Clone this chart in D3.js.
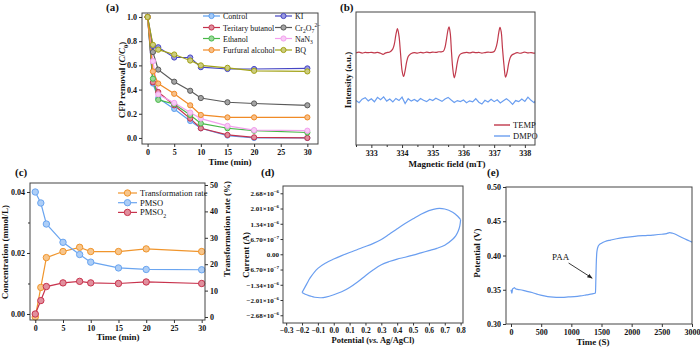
<!DOCTYPE html>
<html>
<head>
<meta charset="utf-8">
<script src="https://cdn.jsdelivr.net/npm/d3@7"></script>
<style>
  body { margin: 0; background: #fff; }
</style>
</head>
<body>
<script>
// ---------- data ----------
// (a) scavenger tests
const timeA = [0, 1, 2, 5, 8, 10, 15, 20, 30];
const namesA = ["Control", "KI", "Teritary butanol", "Cr_{2}O_{7}^{2−}", "Ethanol", "NaN_{3}", "Furfural alcohol", "BQ"];
const colorsA = ["#5b9ff0", "#4646c4", "#c4314c", "#5a5a5a", "#48b848", "#f3a0ee", "#f08a26", "#a2a216"];
const controlA = [1.0, 0.45, 0.33, 0.24, 0.14, 0.08, 0.02, 0.0, 0.0];
const kiA = [1.0, 0.76, 0.75, 0.665, 0.665, 0.585, 0.57, 0.57, 0.575];
const butanolA = [1.0, 0.46, 0.38, 0.27, 0.16, 0.08, 0.025, 0.005, 0.0];
const dichromateA = [1.0, 0.71, 0.565, 0.465, 0.39, 0.33, 0.295, 0.285, 0.27];
const ethanolA = [1.0, 0.49, 0.315, 0.28, 0.19, 0.12, 0.08, 0.06, 0.045];
const azideA = [1.0, 0.635, 0.36, 0.29, 0.21, 0.16, 0.10, 0.065, 0.06];
const furfuralA = [1.0, 0.55, 0.45, 0.365, 0.27, 0.19, 0.17, 0.17, 0.17];
const bqA = [1.0, 0.77, 0.73, 0.69, 0.64, 0.60, 0.58, 0.555, 0.55];
const seriesA = [controlA, kiA, butanolA, dichromateA, ethanolA, azideA, furfuralA, bqA];

// (b) EPR spectra [field mT, intensity a.u.]
const tempSpectrum = [
  [332.50,69.3],[332.60,69.8],[332.70,69.1],[332.80,69.6],[332.90,69.4],[333.00,69.7],[333.10,69.2],
  [333.20,69.6],[333.30,69.0],[333.38,68.2],[333.45,69.1],[333.53,69.6],[333.60,70.0],[333.70,72.3],
  [333.75,76],[333.80,83],[333.85,87.5],[333.90,82],[333.95,69],[334.00,56],[334.05,51.5],[334.10,56],
  [334.15,62.5],[334.20,66.5],[334.25,68],[334.30,68.8],[334.40,69.4],[334.50,69.1],[334.60,69.7],
  [334.70,69.3],[334.80,69.8],[334.90,69.5],[335.00,69.9],[335.10,69.6],[335.20,70.1],[335.28,70.0],
  [335.35,70.6],[335.40,73.5],[335.45,80],[335.50,87],[335.53,88.8],[335.57,84],[335.61,70],[335.65,58],
  [335.70,50.5],[335.75,55],[335.80,62],[335.85,66.5],[335.90,68.3],[336.00,69.3],[336.10,69.7],
  [336.20,69.2],[336.30,69.8],[336.40,69.4],[336.50,69.6],[336.60,69.1],[336.70,69.5],[336.80,69.9],
  [336.90,69.6],[337.00,70.3],[337.05,72.5],[337.10,77],[337.15,84.5],[337.19,88.5],[337.23,85],
  [337.27,73],[337.32,60],[337.37,51],[337.42,54.5],[337.47,61],[337.52,65.5],[337.57,67.5],[337.65,68.5],
  [337.75,69.4],[337.85,69.0],[337.95,69.6],[338.00,69.9],[338.10,69.2],[338.20,69.5],[338.30,69.1],
  [338.40,69.4],[338.50,69.2]
];
const dmpoSpectrum = [
  [332.5,33.5],[332.6,31.8],[332.7,34.5],[332.8,35.6],[332.9,33.2],[333.0,34.8],[333.1,32.5],[333.2,35.8],
  [333.3,34.0],[333.4,36.2],[333.5,33.0],[333.6,34.6],[333.7,32.4],[333.8,35.0],[333.9,33.4],[334.0,36.0],
  [334.1,31.2],[334.2,34.8],[334.3,33.0],[334.4,34.2],[334.5,32.8],[334.6,35.0],[334.7,33.6],[334.8,32.6],
  [334.9,34.4],[335.0,33.4],[335.1,35.2],[335.2,34.0],[335.3,32.8],[335.4,34.6],[335.5,35.8],[335.6,33.8],
  [335.7,32.0],[335.8,33.4],[335.9,32.6],[336.0,33.8],[336.1,31.8],[336.2,33.2],[336.3,32.4],[336.4,34.8],
  [336.5,32.2],[336.6,30.8],[336.7,33.6],[336.8,32.4],[336.9,34.4],[337.0,32.6],[337.1,34.0],[337.2,31.6],
  [337.3,33.2],[337.4,34.8],[337.5,33.0],[337.6,30.6],[337.7,33.4],[337.8,32.6],[337.9,34.6],[338.0,32.8],
  [338.1,36.0],[338.2,33.6],[338.3,31.8],[338.4,35.2]
];
const fieldTicks = [333, 334, 335, 336, 337, 338];

// (c) PMSO probe
const timeC = [0, 1, 2, 5, 8, 10, 15, 20, 30];
const transRate = [0, 11.2, 22.5, 24.8, 26.4, 24.8, 24.8, 25.8, 24.8];
const pmso = [0.040, 0.0364, 0.0295, 0.0235, 0.0195, 0.017, 0.0151, 0.0146, 0.0145];
const pmso2 = [0.0, 0.0044, 0.009, 0.0102, 0.0107, 0.0102, 0.0100, 0.0105, 0.0100];

// (d) cyclic voltammogram
const cvFwdPotential = [-0.20,-0.17,-0.15,-0.10,-0.05,0.00,0.05,0.10,0.15,0.20,0.25,0.30,0.35,0.40,0.45,0.50,0.55,0.60,0.65,0.70,0.75,0.78,0.80];
const cvFwdCurrent = [-1.68e-6,-1.30e-6,-1.05e-6,-0.62e-6,-0.38e-6,-0.21e-6,-0.06e-6,0.08e-6,0.21e-6,0.34e-6,0.48e-6,0.65e-6,0.88e-6,1.12e-6,1.35e-6,1.56e-6,1.76e-6,1.92e-6,2.01e-6,1.99e-6,1.85e-6,1.68e-6,1.52e-6];
const cvRevPotential = [0.80,0.795,0.785,0.77,0.75,0.70,0.65,0.60,0.55,0.50,0.45,0.40,0.35,0.30,0.25,0.20,0.15,0.10,0.05,0.00,-0.05,-0.08,-0.12,-0.15,-0.18,-0.20];
const cvRevCurrent = [1.52e-6,1.25e-6,1.02e-6,0.82e-6,0.66e-6,0.40e-6,0.26e-6,0.16e-6,0.06e-6,-0.04e-6,-0.13e-6,-0.21e-6,-0.32e-6,-0.46e-6,-0.68e-6,-0.94e-6,-1.22e-6,-1.46e-6,-1.65e-6,-1.78e-6,-1.88e-6,-1.91e-6,-1.89e-6,-1.83e-6,-1.76e-6,-1.68e-6];
const currentTicks = [-2.68e-6, -2.01e-6, -1.34e-6, -6.7e-7, 0, 6.7e-7, 1.34e-6, 2.01e-6, 2.68e-6];

// (e) open-circuit potential
const ocpTime = [0, 8, 15, 25, 40, 55, 70, 90, 150, 250, 350, 450, 550, 650, 750, 850, 950, 1050, 1150, 1250, 1350, 1390, 1400, 1405, 1412, 1420, 1430, 1445, 1465, 1500, 1560, 1650, 1750, 1900, 2050, 2200, 2350, 2500, 2580, 2630, 2680, 2750, 2850, 2950, 3000];
const ocpPotential = [0.350, 0.347, 0.345, 0.351, 0.352, 0.353, 0.352, 0.351, 0.350, 0.348, 0.346, 0.343, 0.341, 0.3395, 0.339, 0.339, 0.3395, 0.340, 0.341, 0.3425, 0.344, 0.345, 0.3455, 0.360, 0.385, 0.402, 0.409, 0.4135, 0.416, 0.418, 0.4205, 0.4225, 0.4245, 0.4265, 0.428, 0.429, 0.4298, 0.431, 0.432, 0.4335, 0.4325, 0.430, 0.4255, 0.4215, 0.4195];

// ---------- helpers ----------
const FONT = "'Liberation Serif', 'Times New Roman', serif";
const svg = d3.select("body").append("svg")
  .attr("width", 700).attr("height", 350)
  .attr("font-family", FONT);

function light(c) { return d3.interpolateRgb(c, "#fff")(0.45); }

// mini markup: _{sub} ^{sup} *italic*
function rich(text, s, size) {
  const tokens = s.match(/(_\{[^}]*\}|\^\{[^}]*\}|\*[^*]*\*|[^_^*]+)/g);
  let cur = 0;
  tokens.forEach(tok => {
    let shift = 0, fs = size, italic = false, str = tok;
    if (tok.startsWith("_{")) { shift = size * 0.3; fs = size * 0.7; str = tok.slice(2, -1); }
    else if (tok.startsWith("^{")) { shift = -size * 0.4; fs = size * 0.7; str = tok.slice(2, -1); }
    else if (tok.startsWith("*")) { italic = true; str = tok.slice(1, -1); }
    const sp = text.append("tspan").attr("dy", shift - cur).attr("font-size", fs).text(str);
    if (italic) sp.attr("font-style", "italic");
    cur = shift;
  });
  return text;
}

function label(x, y, s, opts = {}) {
  const t = svg.append("text")
    .attr("transform", `translate(${x},${y})` + (opts.rotate ? ` rotate(${opts.rotate})` : ""))
    .attr("text-anchor", opts.anchor || "middle")
    .attr("font-weight", opts.bold === false ? "normal" : "bold")
    .attr("font-size", opts.size || 9)
    .attr("fill", "#111");
  return rich(t, s, opts.size || 9);
}

function frame(b) {
  svg.append("rect").attr("x", b.l).attr("y", b.t)
    .attr("width", b.r - b.l).attr("height", b.b - b.t)
    .attr("fill", "none").attr("stroke", "#444").attr("stroke-width", 1);
}

function clip(id, b) {
  svg.append("clipPath").attr("id", id).append("rect")
    .attr("x", b.l).attr("y", b.t).attr("width", b.r - b.l).attr("height", b.b - b.t);
}

function axis(gen, tx, ty, size) {
  const g = svg.append("g").attr("transform", `translate(${tx},${ty})`).call(gen);
  g.attr("font-family", FONT).attr("font-size", size);
  g.select(".domain").remove();
  g.selectAll(".tick line").attr("stroke", "#333");
  g.selectAll(".tick text").attr("font-weight", "bold").attr("fill", "#111");
  return g;
}

function markers(g, xs, ys, x, y, color, r) {
  g.selectAll(null).data(xs).join("circle")
    .attr("cx", d => x(d)).attr("cy", (d, i) => y(ys[i])).attr("r", r)
    .attr("fill", light(color)).attr("stroke", color).attr("stroke-width", 1);
}

// ---------- (a) ----------
{
  const b = { l: 142, r: 318, t: 13, b: 144 };
  const x = d3.scaleLinear().domain([-1.05, 32]).range([b.l, b.r]);
  const y = d3.scaleLinear().domain([-0.05, 1.033]).range([b.b, b.t]);
  const g = svg.append("g");
  const line = d3.line().x((d, i) => x(timeA[i])).y(d => y(d));
  seriesA.forEach((s, k) => {
    g.append("path").datum(s).attr("d", line).attr("fill", "none")
      .attr("stroke", colorsA[k]).attr("stroke-width", 1.2);
  });
  seriesA.forEach((s, k) => markers(g, timeA, s, x, y, colorsA[k], 2.6));
  frame(b);
  axis(d3.axisBottom(x).tickValues([0, 5, 10, 15, 20, 25, 30]).tickSize(3).tickPadding(2), 0, b.b, 8);
  axis(d3.axisLeft(y).tickValues([0, 0.2, 0.4, 0.6, 0.8, 1.0]).tickFormat(d3.format(".1f")).tickSize(3).tickPadding(2), b.l, 0, 8);
  label(230, 165, "Time (min)");
  label(125, 80, "CFP removal (*C*/*C*_{0})", { rotate: -90 });
  label(106, 11, "(a)", { anchor: "start", size: 11 });

  // legend
  const cols = [203, 275], rows = [16, 27.5, 38.5, 50];
  namesA.forEach((n, k) => {
    const lx = cols[k % 2], ly = rows[Math.floor(k / 2)];
    svg.append("line").attr("x1", lx).attr("x2", lx + 17).attr("y1", ly).attr("y2", ly)
      .attr("stroke", colorsA[k]).attr("stroke-width", 1.2);
    svg.append("circle").attr("cx", lx + 8.5).attr("cy", ly).attr("r", 2.6)
      .attr("fill", light(colorsA[k])).attr("stroke", colorsA[k]);
    label(lx + 20, ly + 3, n, { anchor: "start", bold: false, size: 8 });
  });
}

// ---------- (b) ----------
{
  const b = { l: 356, r: 535, t: 12, b: 145 };
  const x = d3.scaleLinear().domain([332.5, 338.33]).range([b.l, b.r]);
  const y = d3.scaleLinear().domain([0, 100]).range([b.b, b.t]);
  clip("clipB", b);
  const g = svg.append("g").attr("clip-path", "url(#clipB)");
  const line = d3.line().x(d => x(d[0])).y(d => y(d[1]));
  g.append("path").datum(tempSpectrum).attr("d", line.curve(d3.curveCatmullRom))
    .attr("fill", "none").attr("stroke", "#c0394b").attr("stroke-width", 1.2);
  g.append("path").datum(dmpoSpectrum).attr("d", line.curve(d3.curveLinear))
    .attr("fill", "none").attr("stroke", "#6a9ef0").attr("stroke-width", 1.2);
  frame(b);
  axis(d3.axisBottom(x).tickValues(fieldTicks.map(v => v - 0.5)).tickFormat("").tickSize(2), 0, b.b, 8);
  axis(d3.axisBottom(x).tickValues(fieldTicks).tickFormat(d3.format("d")).tickSize(3).tickPadding(2), 0, b.b, 8);
  label(447, 167, "Magnetic field (mT)");
  label(351, 80, "Intensity (a.u.)", { rotate: -90 });
  label(340, 11, "(b)", { anchor: "start", size: 11 });

  const leg = [["TEMP", "#c0394b", 125], ["DMPO", "#6a9ef0", 136]];
  leg.forEach(([n, c, ly]) => {
    svg.append("line").attr("x1", 494).attr("x2", 510).attr("y1", ly).attr("y2", ly)
      .attr("stroke", c).attr("stroke-width", 1.4);
    label(513, ly + 3, n, { anchor: "start", bold: false, size: 8.5 });
  });
}

// ---------- (c) ----------
{
  const b = { l: 30, r: 205, t: 183, b: 320 };
  const x = d3.scaleLinear().domain([-0.95, 30.6]).range([b.l, b.r]);
  const yL = d3.scaleLinear().domain([-0.00197, 0.04295]).range([b.b, b.t]);
  const yR = d3.scaleLinear().domain([-1.14, 50.76]).range([b.b, b.t]);
  const g = svg.append("g");
  const defs = [
    ["Transformation rate", "#f0952c", transRate, yR],
    ["PMSO", "#6aa5f0", pmso, yL],
    ["PMSO_{2}", "#c8334d", pmso2, yL]
  ];
  defs.forEach(([n, c, vals, ys]) => {
    g.append("path").datum(vals)
      .attr("d", d3.line().x((d, i) => x(timeC[i])).y(d => ys(d)))
      .attr("fill", "none").attr("stroke", c).attr("stroke-width", 1.2);
    markers(g, timeC, vals, x, ys, c, 3.2);
  });
  frame(b);
  axis(d3.axisBottom(x).tickValues([0, 5, 10, 15, 20, 25, 30]).tickSize(3).tickPadding(2), 0, b.b, 8);
  axis(d3.axisLeft(yL).tickValues([0, 0.02, 0.04]).tickFormat(d => d === 0.04 ? "0.04" : d3.format(".2f")(d)).tickSize(3).tickPadding(2), b.l, 0, 8);
  axis(d3.axisLeft(yL).tickValues([0.01, 0.03]).tickFormat("").tickSize(2), b.l, 0, 8);
  axis(d3.axisRight(yR).tickValues([0, 10, 20, 30, 40, 50]).tickSize(3).tickPadding(2), b.r, 0, 8);
  label(118, 340, "Time (min)");
  label(8, 252, "Concentration (mmol/L)", { rotate: -90 });
  label(230, 229, "Transformation rate (%)", { rotate: -90 });
  label(15, 176, "(c)", { anchor: "start", size: 11 });

  defs.forEach(([n, c], k) => {
    const ly = 193 + k * 9.7;
    svg.append("line").attr("x1", 118).attr("x2", 137).attr("y1", ly).attr("y2", ly)
      .attr("stroke", c).attr("stroke-width", 1.2);
    svg.append("circle").attr("cx", 127.5).attr("cy", ly).attr("r", 3.2)
      .attr("fill", light(c)).attr("stroke", c);
    label(140, ly + 3, n, { anchor: "start", bold: false, size: 8.5 });
  });
}

// ---------- (d) ----------
{
  const b = { l: 283, r: 463, t: 186, b: 323 };
  const x = d3.scaleLinear().domain([-0.32, 0.815]).range([b.l, b.r]);
  const y = d3.scaleLinear().domain([-3.02e-6, 3.0e-6]).range([b.b, b.t]);
  const g = svg.append("g");
  const line = d3.line().curve(d3.curveCatmullRom);
  g.append("path").attr("d", line(cvFwdPotential.map((v, i) => [x(v), y(cvFwdCurrent[i])])))
    .attr("fill", "none").attr("stroke", "#6a9ef0").attr("stroke-width", 1.2);
  g.append("path").attr("d", line(cvRevPotential.map((v, i) => [x(v), y(cvRevCurrent[i])])))
    .attr("fill", "none").attr("stroke", "#6a9ef0").attr("stroke-width", 1.2);
  frame(b);
  axis(d3.axisBottom(x).tickValues(d3.range(-3, 9).map(v => v / 10)).tickFormat(d3.format(".1f")).tickSize(2.5).tickPadding(2), 0, b.b, 7.5);
  const ya = axis(d3.axisLeft(y).tickValues(currentTicks).tickFormat("").tickSize(2.5).tickPadding(1.5), b.l, 0, 7);
  ya.selectAll(".tick text").each(function (d) {
    const t = d3.select(this);
    if (d === 0) { t.text("0.00"); return; }
    const e = Math.floor(Math.log10(Math.abs(d)) + 1e-9);
    const m = Math.abs(d / Math.pow(10, e)).toFixed(2);
    t.text(null);
    t.append("tspan").text((d < 0 ? "−" : "") + m + "×10");
    t.append("tspan").attr("dy", -3).attr("font-size", 5).text("−" + Math.abs(e));
  });
  label(373, 343, "Potential (*vs.* Ag/AgCl)", { size: 8.5 });
  label(249, 255, "Current (A)", { rotate: -90 });
  label(261, 176, "(d)", { anchor: "start", size: 11 });
}

// ---------- (e) ----------
{
  const b = { l: 506, r: 692, t: 187, b: 324 };
  const x = d3.scaleLinear().domain([-83, 3000]).range([b.l, b.r]);
  const y = d3.scaleLinear().domain([0.30, 0.50]).range([b.b, b.t]);
  const g = svg.append("g");
  g.append("path").datum(ocpTime)
    .attr("d", d3.line().curve(d3.curveMonotoneX).x(d => x(d)).y((d, i) => y(ocpPotential[i])))
    .attr("fill", "none").attr("stroke", "#6a9ef0").attr("stroke-width", 1.2);
  frame(b);
  axis(d3.axisBottom(x).tickValues([0, 500, 1000, 1500, 2000, 2500, 3000]).tickFormat(d3.format("d")).tickSize(3).tickPadding(2), 0, b.b, 8);
  axis(d3.axisLeft(y).tickValues([0.30, 0.35, 0.40, 0.45, 0.50]).tickFormat(d3.format(".2f")).tickSize(3).tickPadding(2), b.l, 0, 8);
  label(593, 345, "Time (S)");
  label(479.5, 253, "Potential (V)", { rotate: -90 });
  label(487, 176, "(e)", { anchor: "start", size: 11 });

  // annotation
  svg.append("defs").append("marker").attr("id", "arrow").attr("viewBox", "0 0 10 10")
    .attr("refX", 9).attr("refY", 5).attr("markerWidth", 6).attr("markerHeight", 6)
    .attr("orient", "auto").append("path").attr("d", "M0,1 L10,5 L0,9 Z").attr("fill", "#222");
  svg.append("line").attr("x1", x(955)).attr("y1", y(0.389)).attr("x2", x(1345)).attr("y2", y(0.367))
    .attr("stroke", "#222").attr("stroke-width", 0.9).attr("marker-end", "url(#arrow)");
  label(x(680), y(0.393), "PAA", { anchor: "start", bold: false, size: 9 });
}
</script>
</body>
</html>
